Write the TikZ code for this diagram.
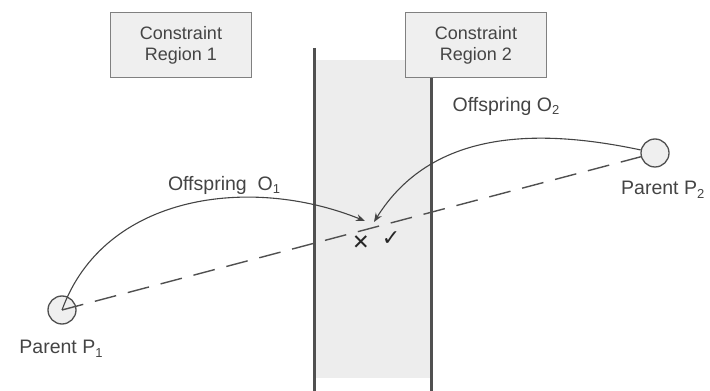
\documentclass[tikz,border=0pt]{standalone}
\usepackage{fontspec}
\setmainfont{Liberation Sans}
\newfontfamily\symfont{DejaVu Sans}
\usepackage{tikz}
\usetikzlibrary{arrows.meta}

\definecolor{textgray}{HTML}{444444}
\definecolor{wallgray}{HTML}{505050}
\definecolor{boxfill}{HTML}{EFEFEF}
\definecolor{bandfill}{HTML}{EDEDED}

\newcommand{\lowidx}[1]{\raisebox{-0.35ex}{\fontsize{13}{13}\selectfont #1}}

\begin{document}
\begin{tikzpicture}[x=1pt, y=1pt,
    txt/.style={text=textgray, font=\fontsize{19.5}{22}\selectfont, inner sep=0pt},
    regionbox/.style={draw=gray, line width=1.4pt, fill=boxfill, minimum width=141pt, minimum height=65pt, align=center, text=textgray, font=\fontsize{18}{21}\selectfont},
    parent/.style={circle, draw=wallgray, line width=1.3pt, fill=boxfill, minimum size=28pt, inner sep=0pt},
    offarrow/.style={draw=textgray, line width=1.1pt, -{Stealth[length=9pt, width=7pt]}},
    marksign/.style={text=black!85, inner sep=0pt}]
    \useasboundingbox (0, 0) rectangle (710, 391);

    % draw shaded band and walls
    \fill[bandfill] (314, 13) rectangle (431, 331);
    \draw[wallgray, line width=3pt] (314, 343) -- (314, 0);
    \draw[wallgray, line width=3pt] (431, 343) -- (431, 0);

    % draw region boxes
    \node[regionbox] (region1) at (181, 346) {Constraint\\Region 1};
    \node[regionbox] (region2) at (476, 346) {Constraint\\Region 2};

    % draw parents
    \node[parent] (p1) at (62, 81) {};
    \node[parent] (p2) at (655, 238) {};
    \node[txt] (lp1) at (61, 42) {Parent P\lowidx{1}};
    \node[txt, anchor=west] (lp2) at (621, 201) {Parent P\lowidx{2}};

    % draw line between parents
    \draw[wallgray, line width=1.4pt, dash pattern=on 22pt off 12pt] (p1.center) -- (p2);

    % draw offspring arrows
    \coordinate (child1) at (365, 170);
    \coordinate (child2) at (374, 169);
    \draw[offarrow] (p1.center) to[out=70, in=158] (child1);
    \draw[offarrow] (p2) to[out=168, in=58] (child2);
    \node[txt] (lo1) at (224, 206) {Offspring\ \ O\lowidx{1}};
    \node[txt] (lo2) at (506, 285) {Offspring O\lowidx{2}};

    % draw marks
    \node[marksign, font=\symfont\bfseries\fontsize{21}{21}\selectfont] (cross) at (361, 148) {✕};
    \node[marksign, font=\symfont\fontsize{22}{22}\selectfont] (tick) at (391, 152) {✓};

\end{tikzpicture}
\end{document}
